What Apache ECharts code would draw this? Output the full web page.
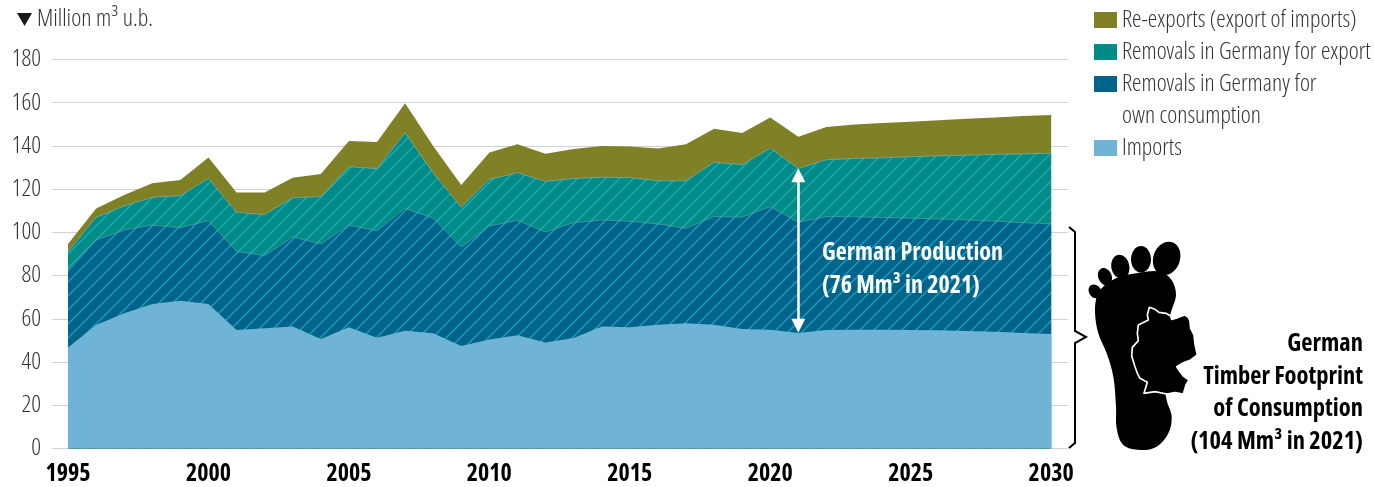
<!DOCTYPE html>
<html><head><meta charset="utf-8">
<script src="https://cdn.jsdelivr.net/npm/echarts@6/dist/echarts.min.js"></script>
<style>html,body{margin:0;padding:0;background:#fff}#c{width:1374px;height:487px}</style></head>
<body><div id="c"></div>
<script>
const years=[1995,1996,1997,1998,1999,2000,2001,2002,2003,2004,2005,2006,2007,2008,2009,2010,2011,2012,2013,2014,2015,2016,2017,2018,2019,2020,2021,2022,2023,2024,2025,2026,2027,2028,2029,2030];
const imports=[46.7,57.1,62.6,66.9,68.4,66.9,54.8,55.6,56.5,50.7,56.1,51.3,54.5,53.3,47.4,50.4,52.4,49.1,51.1,56.5,56.1,57.3,57.9,57.3,55.3,55,53.4,54.8,54.9,54.9,54.8,54.7,54.4,54,53.5,53];
const ownConsumption=[35.1,39.4,38.5,36.5,33.8,38.5,36.4,33.6,41.4,43.9,47.2,49.5,56.6,53.2,45.8,52.6,53.2,51.1,53.4,49.2,49,46.6,44,50,51.8,56.9,51.3,52.5,52.3,52,51.8,51.5,51.4,51.2,51,51];
const forExport=[9.2,10.5,11.1,12.8,14.8,19.5,18.1,19,18.1,21.9,27.1,28.7,35,21,18.4,21.5,22,23.4,20.4,19.8,20.2,20,22,25.1,24.2,27,24.9,26.3,27,27.6,28.4,29.2,29.9,30.9,31.8,32.6];
const reExports=[3.6,4,5.1,6.5,7.2,9.7,9.2,10.3,9.3,10.5,11.9,12.3,13.6,12.5,10.3,12.5,13.2,12.8,13.7,14.5,14.4,14.9,16.9,15.6,14.7,14.3,14.7,15.2,15.7,16.1,16.2,16.5,16.9,17.1,17.5,17.7];
const yearTicks=[1995,2000,2005,2010,2015,2020,2025,2030];
const seriesNames=['Imports','Removals in Germany for own consumption','Removals in Germany for export','Re-exports (export of imports)'];
const FAM="'Open Sans',sans-serif";

function hatch(bg,stripe){
  const P=14,c=document.createElement('canvas');c.width=c.height=P;
  const g=c.getContext('2d');g.fillStyle=bg;g.fillRect(0,0,P,P);
  g.strokeStyle=stripe;g.lineWidth=1.4;
  [[-P,P,P,-P],[0,P,P,0],[0,2*P,2*P,0]].forEach(l=>{g.beginPath();g.moveTo(l[0],l[1]);g.lineTo(l[2],l[3]);g.stroke();});
  return {image:c,repeat:'repeat'};
}
const layers=[imports,ownConsumption,forExport,reExports];
const tops=layers.map((_,k)=>years.map((y,i)=>{let s=0;for(let j=0;j<=k;j++)s+=layers[j][i];return [y,+s.toFixed(2)];}));
function area(k,color,fill,seam,extra){
  return Object.assign({type:'line',name:seriesNames[k],data:tops[k],z:10-k,showSymbol:false,symbol:'none',
    itemStyle:{color},lineStyle:{width:seam?0.7:0,color:seam||color},areaStyle:{color:fill,opacity:1},silent:true,animation:false},extra||{});
}
const chart=echarts.init(document.getElementById('c'),null,{renderer:'canvas'});
const legendBase={orient:'vertical',left:1089,itemWidth:23,itemHeight:16,itemGap:8,icon:'rect',selectedMode:false,
  textStyle:{fontStyle:'condensed',fontWeight:300,fontFamily:FAM,fontSize:23.8,color:'#333'},
  formatter:n=>n.startsWith('Removals in Germany for own')?'Removals in Germany for':n};
chart.setOption({
  animation:false,
  grid:{left:52,right:306,top:59.5,bottom:38.5},
  xAxis:{type:'value',min:1994.43,max:2030.6,splitLine:{show:false},axisLine:{show:false},axisTick:{show:false},
    axisLabel:{customValues:yearTicks,formatter:v=>String(v),fontStyle:'condensed',fontFamily:FAM,fontWeight:'bold',fontSize:24,color:'#000',margin:14}},
  yAxis:{type:'value',min:0,max:180,interval:20,axisLine:{show:false},axisTick:{show:false},
    splitLine:{lineStyle:{color:'#d2d2d2',width:1}},
    axisLabel:{fontStyle:'condensed',fontWeight:300,fontFamily:FAM,fontSize:24,color:'#333',margin:11}},
  legend:[
    Object.assign({},legendBase,{top:3,data:[seriesNames[3],seriesNames[2],seriesNames[1]]}),
    Object.assign({},legendBase,{top:131,data:[seriesNames[0]]})
  ],
  series:[
    area(3,'#808026','#808026'),
    area(2,'#008b86',hatch('#008b86','#1caab4'),'#7fb3a4'),
    area(1,'#006389',hatch('#006389','#1a9dbd'),'#5f9fa6'),
    area(0,'#6fb4d6','#6fb4d6',null,{
      markLine:{silent:true,animation:false,symbol:['triangle','triangle'],symbolSize:14,label:{show:false},z:20,
        lineStyle:{color:'#fff',width:2.5,type:'solid'},
        data:[[{xAxis:2021,yAxis:56.8},{xAxis:2021,yAxis:126.4}]]}})
  ],
  graphic:[
    {type:'polygon',shape:{points:[[17,13],[32,13],[24.5,26]]},style:{fill:'#1a1a1a'}},
    {type:'text',x:37,y:7,style:{text:'Million m³ u.b.',font:"condensed 300 24px "+FAM,fill:'#333'}},
    {type:'text',x:1122,y:104,style:{text:'own consumption',font:"condensed 300 23.8px "+FAM,fill:'#333'}},
    {type:'text',x:822,y:237,z:30,style:{text:'German Production\n(76 Mm³ in 2021)',font:"condensed bold 24px "+FAM,fill:'#fff',lineHeight:33}},
    {type:'text',x:1363,y:328,style:{text:'German\nTimber Footprint\nof Consumption\n(104 Mm³ in 2021)',font:"condensed bold 24.5px "+FAM,fill:'#000',align:'right',lineHeight:32.5}},
    {type:'polyline',shape:{points:[[1069,227],[1075,232],[1075,331],[1086,337],[1075,343],[1075,443],[1069,448]]},style:{stroke:'#000',lineWidth:2,fill:null}},
    {type:'group',x:1060,y:220,scaleX:1/3,scaleY:1/3,children:[
      {type:'ellipse',shape:{cx:0,cy:0,rx:40,ry:51},x:320,y:115,rotation:-0.35,style:{fill:'#000'}},
      {type:'ellipse',shape:{cx:0,cy:0,rx:30,ry:40},x:243,y:118,style:{fill:'#000'}},
      {type:'ellipse',shape:{cx:0,cy:0,rx:27,ry:36},x:181,y:140,rotation:0.2,style:{fill:'#000'}},
      {type:'ellipse',shape:{cx:0,cy:0,rx:20,ry:27},x:135,y:170,rotation:0.4,style:{fill:'#000'}},
      {type:'ellipse',shape:{cx:0,cy:0,rx:18,ry:22},x:105,y:214,rotation:0.6,style:{fill:'#000'}},
      {type:'polygon',shape:{smooth:0.35,points:[[135,195],[180,170],[240,158],[300,155],[335,180],[348,225],[335,270],[300,400],[320,540],[335,590],[325,640],[290,680],[240,690],[190,675],[170,625],[168,560],[160,470],[140,400],[115,340],[105,275],[112,225]]},style:{fill:'#000'}},
      {type:'polygon',shape:{points:[[268,262],[285,268],[297,277],[318,280],[332,288],[335,298],[355,292],[375,285],[385,292],[390,303],[392,325],[402,345],[405,372],[412,405],[392,420],[370,428],[350,440],[360,455],[372,470],[387,480],[378,495],[370,522],[345,518],[320,522],[285,515],[252,520],[262,487],[240,475],[232,460],[225,440],[215,408],[217,382],[235,362],[232,340],[235,315],[265,300],[262,285]]},style:{fill:'#000',stroke:'#fff',lineWidth:5,lineJoin:'round'}}
    ]}
  ]
});
</script></body></html>
